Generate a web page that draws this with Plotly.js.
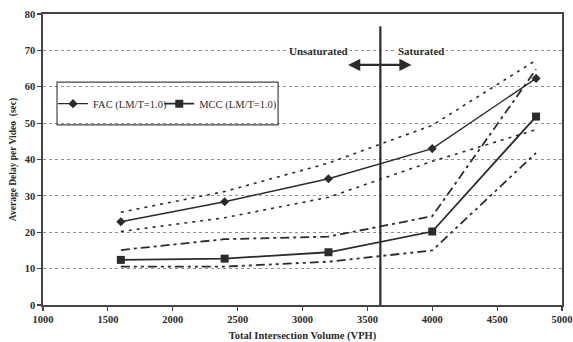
<!DOCTYPE html>
<html>
<head>
<meta charset="utf-8">
<script src="https://cdn.plot.ly/plotly-3.0.1.min.js"></script>
<style>html,body{margin:0;padding:0;background:#fff;}#chart{width:573px;height:342px;}</style>
</head>
<body>
<div id="chart"></div>
<script>
const volume = [1600, 2400, 3200, 4000, 4800];
const facDelay = [22.9, 28.4, 34.7, 43.0, 62.3];
const facUpper = [25.5, 31.2, 39.0, 49.4, 67.3];
const facLower = [20.2, 24.0, 29.6, 39.5, 48.2];
const mccDelay = [12.4, 12.75, 14.5, 20.2, 51.8];
const mccUpper = [15.1, 18.1, 18.8, 24.4, 64.8];
const mccLower = [10.55, 10.55, 11.9, 15.0, 41.8];
const xTicks = [1000, 1500, 2000, 2500, 3000, 3500, 4000, 4500, 5000];
const yTicks = [0, 10, 20, 30, 40, 50, 60, 70, 80];
const seriesNames = ['FAC (LM/T=1.0)', 'MCC (LM/T=1.0)'];
const boundaryVolume = 3600;
const boundaryTop = 76.6;
const arrowLevel = 66;
const arrowFrom = 3340;
const arrowTo = 3840;
const regionLabels = ['Unsaturated', 'Saturated'];

const ink = '#2b2b2b';
const serif = 'Liberation Serif, Times New Roman, serif';

const traces = [
  {x: volume, y: facUpper, mode: 'lines', showlegend: false, hoverinfo: 'skip',
   line: {color: ink, width: 1.6, dash: '3px,5px'}},
  {x: volume, y: facLower, mode: 'lines', showlegend: false, hoverinfo: 'skip',
   line: {color: ink, width: 1.6, dash: '3px,5px'}},
  {x: volume, y: mccUpper, mode: 'lines', showlegend: false, hoverinfo: 'skip',
   line: {color: ink, width: 1.8, dash: '9px,4px,3px,4px'}},
  {x: volume, y: mccLower, mode: 'lines', showlegend: false, hoverinfo: 'skip',
   line: {color: ink, width: 1.8, dash: '9px,4px,3px,4px,3px,4px'}},
  {x: volume, y: facDelay, mode: 'lines+markers', name: seriesNames[0], legend: 'legend',
   line: {color: ink, width: 1.4}, marker: {symbol: 'diamond', size: 7, color: ink}},
  {x: volume, y: mccDelay, mode: 'lines+markers', name: seriesNames[1], legend: 'legend2',
   line: {color: ink, width: 1.8}, marker: {symbol: 'square', size: 8, color: ink}}
];

const legendStyle = {orientation: 'h', yanchor: 'middle', xanchor: 'left', y: 0.692,
  bgcolor: 'rgba(0,0,0,0)', borderwidth: 0, font: {family: serif, size: 10.5, color: ink}};

const layout = {
  width: 573, height: 342,
  margin: {l: 43, r: 11, t: 14, b: 37},
  paper_bgcolor: '#fff', plot_bgcolor: '#fff',
  showlegend: true,
  legend: Object.assign({}, legendStyle, {x: 0.0193}),
  legend2: Object.assign({}, legendStyle, {x: 0.224}),
  xaxis: {range: [1000, 5000], tickvals: xTicks, ticktext: xTicks.map(String),
    showgrid: false, zeroline: false, showline: true, linecolor: '#444', linewidth: 1.6,
    mirror: true, ticks: 'outside', ticklen: 4, tickcolor: '#444', tickwidth: 1.2,
    tickfont: {family: serif, size: 10.5, color: ink, weight: 'bold'},
    title: {text: '<b>Total Intersection Volume (VPH)</b>', standoff: 8,
      font: {family: serif, size: 10.5, color: ink}}},
  yaxis: {range: [0, 80], tickvals: yTicks, ticktext: yTicks.map(String),
    showgrid: true, gridcolor: '#777', gridwidth: 0.8, griddash: 'dot',
    zeroline: false, showline: true, linecolor: '#444', linewidth: 1.6,
    mirror: true, ticks: 'outside', ticklen: 4, tickcolor: '#444', tickwidth: 1.2,
    tickfont: {family: serif, size: 10.5, color: ink, weight: 'bold'},
    title: {text: '<b>Average Delay per Video  (sec)</b>', standoff: 6,
      font: {family: serif, size: 9.5, color: ink}}},
  shapes: [
    {type: 'rect', xref: 'paper', yref: 'paper', x0: 0.027, x1: 0.453, y0: 0.619, y1: 0.766,
     line: {color: '#444', width: 1.2}, fillcolor: 'rgba(255,255,255,0)'},
    {type: 'line', xref: 'x', yref: 'y', x0: boundaryVolume, x1: boundaryVolume, y0: 0, y1: boundaryTop,
     line: {color: ink, width: 2.2}}
  ],
  annotations: [
    {x: arrowTo, y: arrowLevel, ax: arrowFrom, ay: arrowLevel, xref: 'x', yref: 'y', axref: 'x', ayref: 'y',
     text: '', showarrow: true, arrowside: 'end+start', arrowhead: 2, arrowsize: 1.1, arrowwidth: 2.2, arrowcolor: ink},
    {x: 3120, y: 69.7, xref: 'x', yref: 'y', text: '<b>' + regionLabels[0] + '</b>', showarrow: false,
     font: {family: serif, size: 11, color: ink}, bgcolor: '#fff'},
    {x: 3915, y: 69.7, xref: 'x', yref: 'y', text: '<b>' + regionLabels[1] + '</b>', showarrow: false,
     font: {family: serif, size: 11, color: ink}, bgcolor: '#fff'}
  ]
};

Plotly.newPlot('chart', traces, layout, {displayModeBar: false, staticPlot: true});
</script>
</body>
</html>
